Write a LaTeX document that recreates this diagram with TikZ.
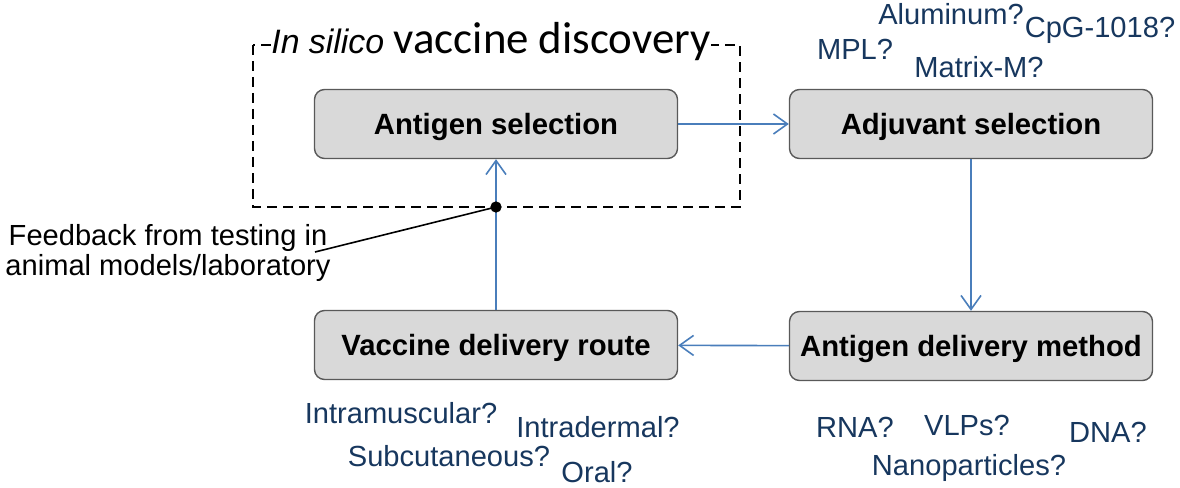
\documentclass[tikz,border=0pt]{standalone}
\usepackage{fontspec}
\setmainfont{Liberation Sans}
\newfontfamily\calfont{Carlito}
\usepackage{tikz}
\usetikzlibrary{arrows.meta}
\definecolor{boxgray}{RGB}{217,217,217}
\definecolor{boxline}{RGB}{89,89,89}
\definecolor{linkblue}{RGB}{74,126,187}
\definecolor{optnavy}{RGB}{23,55,94}
\tikzset{
  stage/.style={draw=boxline, fill=boxgray, rounded corners=5bp, line width=0.7bp,
    minimum width=181.5bp, minimum height=34.5bp, inner sep=0pt, text depth=0pt,
    font=\fontsize{14.7}{17}\selectfont\bfseries},
  option/.style={text=optnavy, anchor=base, inner sep=0pt,
    font=\fontsize{14.6}{17}\selectfont},
  link/.style={draw=linkblue, line width=0.8bp, -{Straight Barb[length=7bp,width=10bp]}}
}

\begin{document}
\begin{tikzpicture}[x=0.5bp,y=-0.5bp]
\useasboundingbox (0,0) rectangle (1180,488);

% dashed frame round the first step
\draw[line width=1bp, dash pattern=on 4.8bp off 3.2bp] (253,45) rectangle (740,207);
\node[fill=white, inner xsep=0pt, inner ysep=1bp, anchor=base] (frametitle) at (491,54)
  {\fontsize{17}{19}\selectfont\itshape In silico\ {\calfont\upshape\fontsize{22.5}{25}\selectfont vaccine discovery}};

% the four steps
\node[stage] (antsel) at (496,124) {Antigen selection};
\node[stage] (adjsel) at (971,124) {Adjuvant selection};
\node[stage] (delmeth) at (971,346) {Antigen delivery method};
\node[stage] (delroute) at (496,345) {Vaccine delivery route};

\draw[link] (antsel) -- (adjsel);
\draw[link] (adjsel) -- (delmeth);
\draw[link] (delmeth) -- (delroute);
\draw[link] (delroute) -- (antsel);

% feedback
\coordinate (fbdot) at (496,207);
\coordinate (fbend) at (315,252);
\filldraw[black] (fbdot) circle (2.6bp);
\draw[line width=0.8bp] (fbdot) -- (fbend);
\node[align=center, inner sep=0pt, font=\fontsize{14.6}{13.6}\selectfont] (fbtext) at (168,253)
  {Feedback from testing in\\ animal models/laboratory};

% adjuvants
\node[option] (alum) at (951,25) {Aluminum?};
\node[option] (cpg) at (1100,38) {CpG-1018?};
\node[option] (mpl) at (855,60) {MPL?};
\node[option] (matrixm) at (979,78) {Matrix-M?};

% routes
\node[option] (im) at (401,423) {Intramuscular?};
\node[option] (id) at (598,437) {Intradermal?};
\node[option] (sc) at (449,466) {Subcutaneous?};
\node[option] (oral) at (597,482) {Oral?};

% delivery methods
\node[option] (rna) at (855,437) {RNA?};
\node[option] (vlp) at (967,435) {VLPs?};
\node[option] (dna) at (1108,442) {DNA?};
\node[option] (nano) at (969,475) {Nanoparticles?};
\end{tikzpicture}
\end{document}
